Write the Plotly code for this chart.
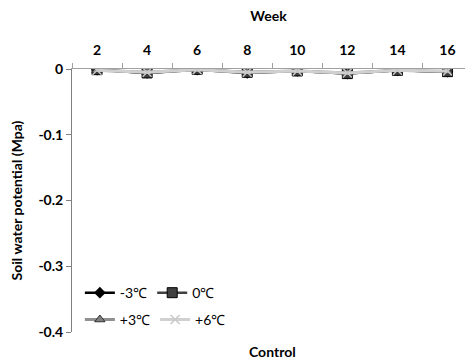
import plotly.graph_objects as go

weeks = ["2", "4", "6", "8", "10", "12", "14", "16"]
s_m3 = [-0.001, -0.006, -0.001, -0.006, -0.003, -0.007, -0.002, -0.004]
s_0 = [-0.001, -0.006, -0.0005, -0.005, -0.003, -0.007, -0.002, -0.004]
s_p3 = [-0.002, -0.005, -0.001, -0.005, -0.003, -0.006, -0.002, -0.004]
s_p6 = [-0.002, -0.005, -0.001, -0.005, -0.003, -0.006, -0.002, -0.003]
names = ["-3℃", "0℃", "+3℃", "+6℃"]

font = "Lato"
fig = go.Figure()
fig.add_trace(go.Scatter(x=weeks, y=s_m3, name=names[0], mode="lines+markers",
                         line=dict(color="#000000", width=2.5),
                         marker=dict(symbol="diamond", size=9, color="#000000"),
                         legend="legend"))
fig.add_trace(go.Scatter(x=weeks, y=s_0, name=names[1], mode="lines+markers",
                         line=dict(color="#404040", width=2.5),
                         marker=dict(symbol="square", size=10, color="#404040",
                                     line=dict(color="#000000", width=1)),
                         legend="legend"))
fig.add_trace(go.Scatter(x=weeks, y=s_p3, name=names[2], mode="lines+markers",
                         line=dict(color="#909090", width=3),
                         marker=dict(symbol="triangle-up", size=9, color="#808080",
                                     line=dict(color="#303030", width=1)),
                         legend="legend2"))
fig.add_trace(go.Scatter(x=weeks, y=s_p6, name=names[3], mode="lines+markers",
                         line=dict(color="#d0d0d0", width=3),
                         marker=dict(symbol="x-thin", size=9, color="#c8c8c8",
                                     line=dict(color="#c8c8c8", width=1.5)),
                         legend="legend2"))

legend_common = dict(orientation="h", x=0.02, xanchor="left", yanchor="middle",
                     font=dict(family=font, size=14, color="#000"),
                     bgcolor="rgba(0,0,0,0)", itemwidth=30, tracegroupgap=0)
fig.update_layout(
    width=469, height=360,
    margin=dict(l=72, r=4, t=69, b=28, autoexpand=False),
    paper_bgcolor="white", plot_bgcolor="white",
    font=dict(family=font, size=14, color="#000"),
    legend=dict(y=0.148, **legend_common),
    legend2=dict(y=0.046, **legend_common),
    xaxis=dict(type="category", side="top", range=[-0.5, 7.35], automargin=False,
               showline=True, linecolor="#a0a0a0", linewidth=1,
               ticks="outside", tickson="boundaries", ticklen=5, tickcolor="#a0a0a0",
               ticklabelstandoff=7,
               tickfont=dict(family=font, size=14, color="#000", weight="bold"),
               title=dict(text="<b>Week</b>", font=dict(family=font, size=14), standoff=16),
               showgrid=False, zeroline=False),
    yaxis=dict(range=[-0.4, 0], tickvals=[0, -0.1, -0.2, -0.3, -0.4], automargin=False,
               ticktext=["0", "-0.1", "-0.2", "-0.3", "-0.4"],
               showline=True, linecolor="#808080", linewidth=1,
               ticks="outside", ticklen=5, tickcolor="#808080",
               tickfont=dict(family=font, size=14, color="#000", weight="bold"),
               title=dict(text="<b>Soil water potential (Mpa)</b>", font=dict(family=font, size=14), standoff=12),
               showgrid=False, zeroline=False),
    annotations=[dict(text="<b>Control</b>", x=0.51, y=-0.076, xref="paper", yref="paper",
                      yanchor="middle", xanchor="center", showarrow=False,
                      font=dict(family=font, size=14))],
)
fig.write_html("out.html", config={"displayModeBar": False},
               post_script="document.body.style.margin='0';document.body.style.overflow='hidden';")
